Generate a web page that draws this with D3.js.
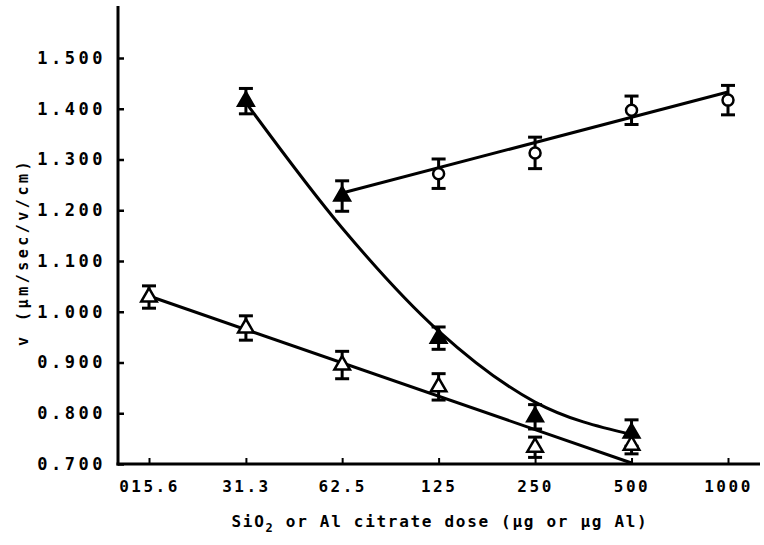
<!DOCTYPE html>
<html>
<head>
<meta charset="utf-8">
<script src="https://cdn.jsdelivr.net/npm/d3@7"></script>
<style>
  html, body { margin: 0; padding: 0; background: #fff; }
  svg { display: block; }
</style>
</head>
<body>
<svg id="chart" width="764" height="545"></svg>
<script>
// ---- data ----
const xTickValues = [15.6, 31.3, 62.5, 125, 250, 500, 1000];
const xTickLabels = ["015.6", "31.3", "62.5", "125", "250", "500", "1000"];
const yTickValues = [0.7, 0.8, 0.9, 1.0, 1.1, 1.2, 1.3, 1.4, 1.5];
const yTickLabels = ["0.700", "0.800", "0.900", "1.000", "1.100", "1.200", "1.300", "1.400", "1.500"];

// open triangles
const openTriDose = [15.6, 31.3, 62.5, 125, 250, 500];
const openTriV    = [1.029, 0.968, 0.895, 0.852, 0.733, 0.737];
const openTriErr  = [0.022, 0.024, 0.027, 0.026, 0.020, 0.017];
const openTriFitDose = [15.6, 500];
const openTriFitV    = [1.031, 0.702];

// filled triangles
const fillTriDose = [31.3, 62.5, 125, 250, 500];
const fillTriV    = [1.415, 1.228, 0.948, 0.793, 0.761];
const fillTriErr  = [0.025, 0.030, 0.022, 0.024, 0.026];
const fillTriFitDose = [31.3, 62.5, 125, 250, 500];
const fillTriFitV    = [1.412, 1.165, 0.962, 0.822, 0.758];

// open circles
const circDose = [125, 250, 500, 1000];
const circV    = [1.272, 1.313, 1.397, 1.417];
const circErr  = [0.029, 0.031, 0.028, 0.029];
const circFitDose = [62.5, 1000];
const circFitV    = [1.234, 1.433];

// ---- drawing ----
const svg = d3.select("#chart");
const x = d3.scaleLog().domain([15.6, 1000]).range([149, 728]);
const y = d3.scaleLinear().domain([0.7, 1.5]).range([464, 58]);
const axisX = 118;

const monoFont = "'DejaVu Sans Mono', 'Liberation Mono', monospace";

// y axis
const yAxis = d3.axisLeft(y)
  .tickValues(yTickValues)
  .tickFormat((d, i) => yTickLabels[i])
  .tickSize(-6)
  .tickPadding(12);
const gy = svg.append("g").attr("transform", `translate(${axisX},0)`).call(yAxis);
gy.select(".domain").remove();
gy.selectAll(".tick line").attr("stroke", "#000").attr("stroke-width", 2.5);
gy.selectAll(".tick text")
  .attr("font-family", monoFont).attr("font-weight", "bold")
  .attr("font-size", 17).attr("letter-spacing", 3.5).attr("fill", "#000");
svg.append("line").attr("x1", axisX).attr("x2", axisX)
  .attr("y1", 6).attr("y2", y(0.7) + 1.5)
  .attr("stroke", "#000").attr("stroke-width", 3);

// x axis
const xAxis = d3.axisBottom(x)
  .tickValues(xTickValues)
  .tickFormat((d, i) => xTickLabels[i])
  .tickSize(-6)
  .tickPadding(17);
const gx = svg.append("g").attr("transform", `translate(0,${y(0.7)})`).call(xAxis);
gx.select(".domain").remove();
gx.selectAll(".tick line").attr("stroke", "#000").attr("stroke-width", 2);
gx.selectAll(".tick text")
  .attr("font-family", monoFont).attr("font-weight", "bold")
  .attr("font-size", 16).attr("letter-spacing", 2.5).attr("fill", "#000");
svg.append("line").attr("x1", axisX - 1.5).attr("x2", 760)
  .attr("y1", y(0.7)).attr("y2", y(0.7))
  .attr("stroke", "#000").attr("stroke-width", 3);

// axis titles
const xt = svg.append("text")
  .attr("x", 440).attr("y", 527)
  .attr("text-anchor", "middle")
  .attr("font-family", monoFont).attr("font-weight", "bold")
  .attr("font-size", 16).attr("letter-spacing", 1.7).attr("fill", "#000");
xt.append("tspan").text("SiO");
xt.append("tspan").attr("dy", 5).attr("font-size", 12).text("2");
xt.append("tspan").attr("dy", -5).text(" or Al citrate dose (µg or µg Al)");

svg.append("text")
  .attr("transform", "translate(28,252) rotate(-90)")
  .attr("text-anchor", "middle")
  .attr("font-family", monoFont).attr("font-weight", "bold")
  .attr("font-size", 15).attr("letter-spacing", 3.5).attr("fill", "#000")
  .text("v (µm/sec/v/cm)");

// fit lines
const line = d3.line().x(d => x(d[0])).y(d => y(d[1]));
const drawFit = (dose, v, curve) => {
  svg.append("path")
    .datum(dose.map((d, i) => [d, v[i]]))
    .attr("d", line.curve(curve))
    .attr("fill", "none").attr("stroke", "#000").attr("stroke-width", 3);
};
drawFit(openTriFitDose, openTriFitV, d3.curveLinear);
drawFit(circFitDose, circFitV, d3.curveLinear);
drawFit(fillTriFitDose, fillTriFitV, d3.curveMonotoneX);

// error bars
const drawErr = (dose, v, err) => {
  const g = svg.append("g").attr("stroke", "#000").attr("stroke-width", 3);
  dose.forEach((d, i) => {
    const cx = x(d), y1 = y(v[i] + err[i]), y2 = y(v[i] - err[i]);
    g.append("line").attr("x1", cx).attr("x2", cx).attr("y1", y1).attr("y2", y2);
    g.append("line").attr("x1", cx - 7).attr("x2", cx + 7).attr("y1", y1).attr("y2", y1);
    g.append("line").attr("x1", cx - 7).attr("x2", cx + 7).attr("y1", y2).attr("y2", y2);
  });
};
drawErr(openTriDose, openTriV, openTriErr);
drawErr(fillTriDose, fillTriV, fillTriErr);
drawErr(circDose, circV, circErr);

// markers
const tri = d3.symbol().type(d3.symbolTriangle).size(105);
svg.append("g").selectAll("path")
  .data(openTriDose.map((d, i) => [d, openTriV[i]]))
  .join("path")
  .attr("d", tri)
  .attr("transform", d => `translate(${x(d[0])},${y(d[1])})`)
  .attr("fill", "#fff").attr("stroke", "#000").attr("stroke-width", 2.5);

svg.append("g").selectAll("path")
  .data(fillTriDose.map((d, i) => [d, fillTriV[i]]))
  .join("path")
  .attr("d", tri)
  .attr("transform", d => `translate(${x(d[0])},${y(d[1])})`)
  .attr("fill", "#000").attr("stroke", "#000").attr("stroke-width", 2.5);

svg.append("g").selectAll("circle")
  .data(circDose.map((d, i) => [d, circV[i]]))
  .join("circle")
  .attr("cx", d => x(d[0])).attr("cy", d => y(d[1])).attr("r", 5.5)
  .attr("fill", "#fff").attr("stroke", "#000").attr("stroke-width", 2.5);
</script>
</body>
</html>
